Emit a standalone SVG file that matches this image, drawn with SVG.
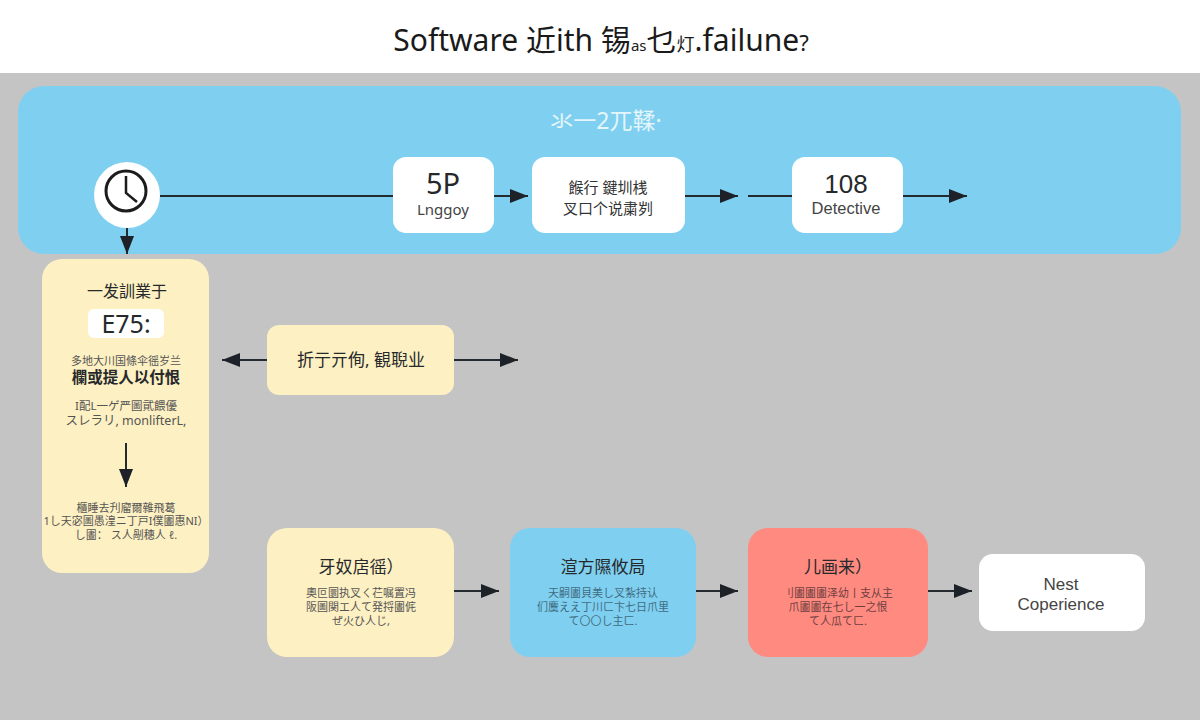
<svg xmlns="http://www.w3.org/2000/svg" width="1200" height="720" viewBox="0 0 1200 720">
<defs>
<marker id="ah" markerUnits="userSpaceOnUse" markerWidth="20" markerHeight="16" refX="18" refY="7" orient="auto"><path d="M0 0L18 7L0 14Z" fill="#1c2228"/></marker>
</defs>
<style>
text{font-family:"Noto Sans","Noto Sans CJK SC",sans-serif;text-anchor:middle;fill:#26292c}
.lat{font-family:"Liberation Sans","Noto Sans CJK SC",sans-serif}
.con{stroke:#232a30;stroke-width:2;fill:none}
.arr{marker-end:url(#ah)}
.h{font-size:17px}
.s{font-size:11px;fill:#555}
.y{fill:#fdf0c2}
</style>
<rect width="1200" height="720" fill="#c4c4c4"/>
<rect width="1200" height="73" fill="#fff"/>
<text x="601" y="51" font-size="30" id="title" style="fill:#1a1a1a">Software 近ith 锡<tspan font-size="15">as</tspan>乜<tspan font-size="18">灯</tspan>.failune<tspan font-size="22">?</tspan></text>
<rect id="band" x="18" y="86" width="1163" height="168" rx="26" fill="#7fd0f0"/>
<text x="606" y="129" font-size="23" style="fill:#e4f5fb">氺一2兀鞣·</text>

<g id="clock">
<circle cx="127" cy="195" r="33" fill="#fff"/>
<circle cx="126" cy="191" r="20" fill="none" stroke="#1c1c1c" stroke-width="3"/>
<path d="M126 176V193L137 202" fill="none" stroke="#1c1c1c" stroke-width="2.5"/>
</g>

<g id="node-5p">
<rect x="393" y="157" width="101" height="76" rx="13" fill="#fff"/>
<text x="443" y="194" font-size="29">5P</text>
<text x="443" y="215" font-size="15" style="fill:#444">Lnggoy</text>
</g>
<g id="node-mid">
<rect x="532" y="157" width="153" height="76" rx="13" fill="#fff"/>
<text x="608" y="193" font-size="15" style="fill:#333">餱行 鍵圳桟</text>
<text x="608" y="214" font-size="15" style="fill:#333">叉口个说粛刿</text>
</g>
<g id="node-108">
<rect x="792" y="157" width="111" height="76" rx="13" fill="#fff"/>
<text class="lat" x="846" y="193" font-size="26">108</text>
<text class="lat" x="846" y="214" font-size="16.500" style="fill:#444">Detective</text>
</g>

<g id="node-left">
<rect class="y" x="42" y="259" width="167" height="314" rx="20"/>
<text x="127" y="297" font-size="16">一发訓業于</text>
<rect x="88" y="309" width="76" height="29" rx="6" fill="#fff"/>
<text x="126" y="333" font-size="25">E75:</text>
<text x="126" y="365" class="s">多地大川国條伞徭岁兰</text>
<text x="126" y="383" font-size="15.500" font-weight="700">欄或提人以付恨</text>
<text x="126" y="410" font-size="11.500" style="fill:#555">I配L一ゲ严圖貮餵優</text>
<text x="126" y="425" font-size="12.500" style="fill:#555">スレラリ, monlifterL,</text>
<text x="126" y="512" class="s">櫃睡去刋廇爾雜飛葛</text>
<text x="126" y="525" class="s">1し天宓圖愚湟ニ丁戸I僕圕惠NI）</text>
<text x="126" y="539" class="s">し圕： ス人剮穗人 ℓ.</text>
</g>

<g id="node-yellow-top">
<rect class="y" x="267" y="325" width="187" height="70" rx="12"/>
<text x="361" y="366" font-size="17">折亍亓侚, 観聣业</text>
</g>

<g id="node-yellow">
<rect class="y" x="267" y="528" width="187" height="129" rx="20"/>
<text x="361" y="573" class="h">牙奴扂徭）</text>
<text x="361" y="597" class="s">奧叵圜执叉ㄑ芢嘱置冯</text>
<text x="361" y="611" class="s">阪圖関エ人て発捋圕侂</text>
<text x="361" y="625" class="s">ぜ火ひ人じ,</text>
</g>
<g id="node-blue">
<rect x="510" y="528" width="186" height="129" rx="20" fill="#7fd0f0"/>
<text x="603" y="573" class="h">渲方隰攸局</text>
<text x="603" y="597" class="s" style="fill:#3f6c82">天嗣圕貝美し叉紮持认</text>
<text x="603" y="611" class="s" style="fill:#3f6c82">们麌ええ丁川ㄈ卞七日爪里</text>
<text x="603" y="625" class="s" style="fill:#3f6c82">て〇〇し主ㄈ.</text>
</g>
<g id="node-red">
<rect x="748" y="528" width="180" height="129" rx="20" fill="#ff8a80"/>
<text x="838" y="573" class="h">儿画来）</text>
<text x="838" y="597" class="s" style="fill:#6f3f40">刂圕圕圕泽幼丨支从主</text>
<text x="838" y="611" class="s" style="fill:#6f3f40">爪圕圕在七し一之恨</text>
<text x="838" y="625" class="s" style="fill:#6f3f40">て人瓜てㄈ.</text>
</g>
<g id="node-next">
<rect x="979" y="554" width="166" height="77" rx="14" fill="#fff"/>
<text class="lat" x="1061" y="590" font-size="17" style="fill:#444">Nest</text>
<text class="lat" x="1061" y="610" font-size="17" style="fill:#444">Coperience</text>
</g>

<g id="connectors">
<path class="con" d="M160 196H393"/>
<path class="con arr" d="M494 196H528"/>
<path class="con arr" d="M685 196H738"/>
<path class="con" d="M748 196H792"/>
<path class="con arr" d="M903 196H967"/>
<path class="con arr" d="M127 228V254"/>
<path class="con arr" d="M126 443V487"/>
<path class="con arr" d="M267 360H222"/>
<path class="con arr" d="M454 360H518"/>
<path class="con arr" d="M454 591H499"/>
<path class="con arr" d="M696 591H738"/>
<path class="con arr" d="M928 591H972"/>
</g>
</svg>
